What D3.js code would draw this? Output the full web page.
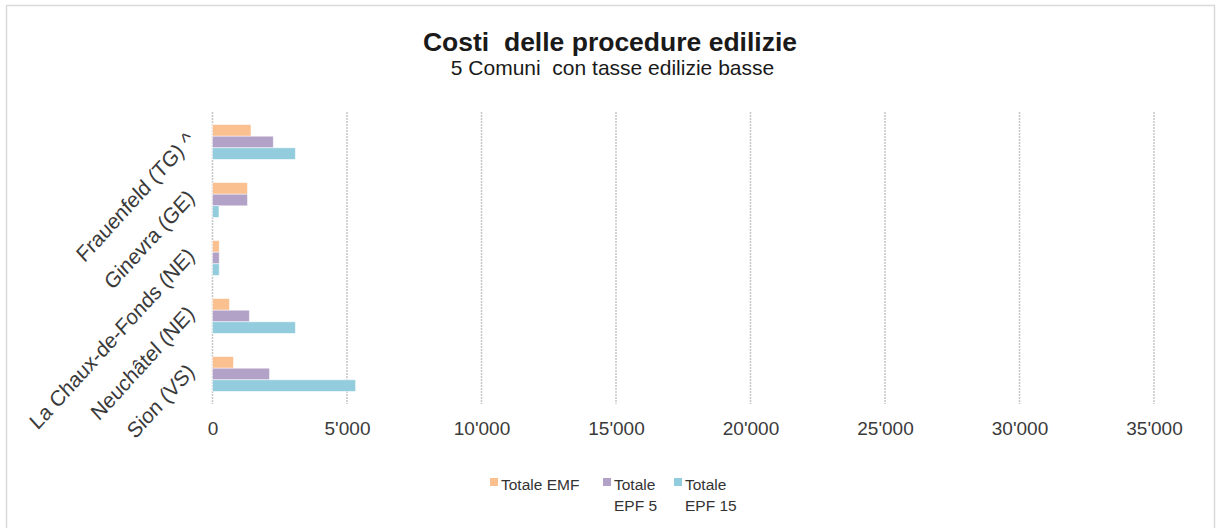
<!DOCTYPE html>
<html>
<head>
<meta charset="utf-8">
<script src="https://cdn.jsdelivr.net/npm/d3@7"></script>
<style>
  html, body { margin: 0; padding: 0; background: #fff; }
  svg { display: block; font-family: "Liberation Sans", Arial, sans-serif; }
  svg text { white-space: pre; }
</style>
</head>
<body>
<svg id="chart" width="1216" height="528"></svg>
<script>
// Municipalities, top to bottom
const categories = ["Frauenfeld (TG) ^", "Ginevra (GE)", "La Chaux-de-Fonds (NE)", "Neuchâtel (NE)", "Sion (VS)"];
// Series (CHF)
const seriesNames = ["Totale EMF", "Totale EPF 5", "Totale EPF 15"];
const legendLines = [["Totale EMF"], ["Totale", "EPF 5"], ["Totale", "EPF 15"]];
const totaleEMF  = [1430, 1300, 250, 630, 780];
const totaleEPF5 = [2260, 1300, 250, 1370, 2120];
const totaleEPF15 = [3080, 240, 250, 3080, 5320];
const xTicks = [0, 5000, 10000, 15000, 20000, 25000, 30000, 35000];
const colors = ["#FAC090", "#B3A2C7", "#93CDDD"];

const series = [totaleEMF, totaleEPF5, totaleEPF15];
const svg = d3.select("#chart");
const font = "'Liberation Sans', Arial, sans-serif";

// chart border
svg.append("rect").attr("x", 6.5).attr("y", 5.5).attr("width", 1208).attr("height", 530)
  .attr("fill", "none").attr("stroke", "#d9d9d9").attr("stroke-width", 1.5);

const x = d3.scaleLinear().domain([0, 35000]).range([212.5, 1154]);
const y = d3.scaleBand().domain(categories).range([113, 403]).paddingInner(0.4).paddingOuter(0.2);
const ySub = d3.scaleBand().domain(d3.range(series.length)).range([0, y.bandwidth()]);

// gridlines
svg.append("g").selectAll("line").data(xTicks).join("line")
  .attr("x1", d => x(d)).attr("x2", d => x(d))
  .attr("y1", 112).attr("y2", 404)
  .attr("stroke", "#c6c6c6").attr("stroke-width", 1.5)
  .attr("stroke-dasharray", "2,1");

// bars
const groups = svg.append("g").selectAll("g").data(categories).join("g")
  .attr("transform", c => `translate(0,${y(c)})`);
groups.selectAll("rect").data((c, i) => series.map((s, k) => ({ k, v: s[i] }))).join("rect")
  .attr("x", x(0))
  .attr("y", d => ySub(d.k))
  .attr("width", d => x(d.v) - x(0))
  .attr("height", ySub.bandwidth())
  .attr("fill", d => colors[d.k])
  .attr("stroke", "rgba(255,255,255,0.6)")
  .attr("stroke-width", 0.8);

// x axis tick labels
const fmt = v => d3.format(",")(v).replace(/,/g, "'");
const xAxis = d3.axisBottom(x).tickValues(xTicks).tickFormat(fmt).tickSize(0).tickPadding(0);
const gx = svg.append("g").attr("transform", "translate(0,421)").call(xAxis);
gx.select(".domain").remove();
gx.selectAll("text").attr("font-size", 19).attr("fill", "#3a3a3a").attr("font-family", font);

// category labels, slanted (slightly taller than wide)
const yAxis = d3.axisLeft(y).tickSize(0).tickPadding(0);
const gy = svg.append("g").attr("transform", "translate(195,-11)").call(yAxis);
gy.select(".domain").remove();
gy.selectAll("text")
  .attr("font-size", 20).attr("fill", "#3a3a3a").attr("font-family", font)
  .attr("text-anchor", "end")
  .attr("x", 0).attr("dx", -6).attr("dy", "0.35em")
  .attr("transform", "scale(1,1.1) rotate(-45)");

// titles
svg.append("text").attr("x", 610).attr("y", 51).attr("text-anchor", "middle")
  .attr("font-size", 26.5).attr("font-weight", "bold").attr("fill", "#1a1a1a")
  .text("Costi  delle procedure edilizie");
svg.append("text").attr("x", 612.5).attr("y", 75).attr("text-anchor", "middle")
  .attr("font-size", 21).attr("fill", "#1a1a1a")
  .text("5 Comuni  con tasse edilizie basse");

// legend
const legendX = [490, 603, 674];
const lg = svg.append("g").selectAll("g").data(seriesNames).join("g")
  .attr("transform", (d, i) => `translate(${legendX[i]},478)`);
lg.append("rect").attr("width", 8).attr("height", 8).attr("fill", (d, i) => colors[i]);
lg.each(function (d, i) {
  const t = d3.select(this).append("text").attr("y", 12)
    .attr("font-size", 15.5).attr("fill", "#333");
  legendLines[i].forEach((line, j) => {
    t.append("tspan").attr("x", 11).attr("dy", j === 0 ? 0 : 21).text(line);
  });
});
</script>
</body>
</html>
